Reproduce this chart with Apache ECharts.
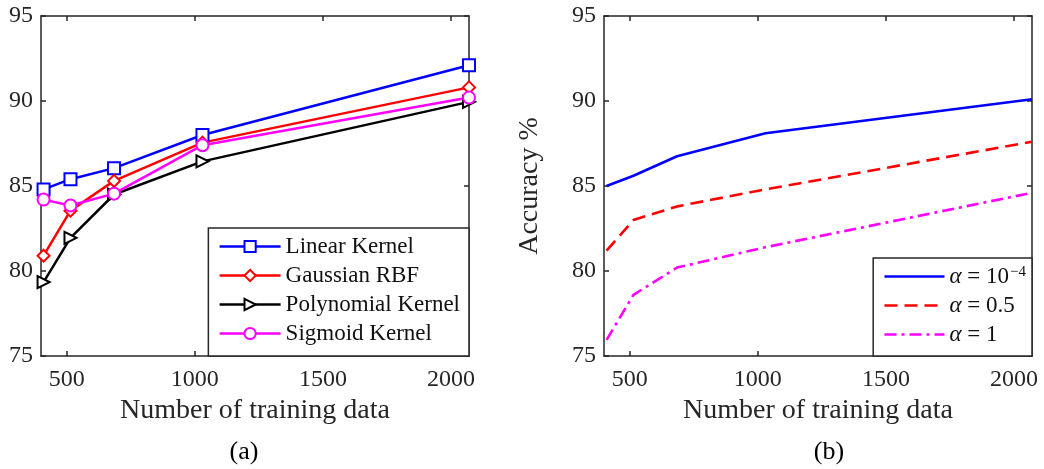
<!DOCTYPE html>
<html>
<head>
<meta charset="utf-8">
<script src="https://cdn.jsdelivr.net/npm/echarts@6/dist/echarts.min.js"></script>
<style>
  html, body { margin: 0; padding: 0; background: #fff; }
  #main { width: 1044px; height: 469px; }
</style>
</head>
<body>
<div id="main"></div>
<script>
// training set sizes (x positions of the points)
var trainSizes = [410, 515, 685, 1030, 2070];
var xTicks = [500, 1000, 1500, 2000];

// panel (a) - kernels
var kernelNames = ['Linear Kernel', 'Gaussian RBF', 'Polynomial Kernel', 'Sigmoid Kernel'];
var linearAcc = [84.8, 85.4, 86.05, 88.0, 92.1];
var gaussianAcc = [80.9, 83.55, 85.3, 87.55, 90.8];
var polyAcc = [79.35, 81.95, 84.5, 86.45, 89.95];
var sigmoidAcc = [84.2, 83.85, 84.55, 87.4, 90.2];

// panel (b) - alpha values
var alphaNames = ['α = 10^-4', 'α = 0.5', 'α = 1'];
var alphaTexts = ['{n|10}{sup|−4}', '{n|0.5}', '{n|1}'];
var alphaSmall = [85.0, 85.6, 86.75, 88.1, 90.1];
var alphaHalf = [81.2, 83.0, 83.8, 84.8, 87.6];
var alphaOne = [75.95, 78.6, 80.2, 81.4, 84.6];

var font = 'Liberation Serif';
var ink = '#262626';

function pairs(ys) {
    return trainSizes.map(function (x, i) { return [x, ys[i]]; });
}

function xAxisFor(gridIndex, top) {
    return {
        type: 'value', gridIndex: gridIndex, min: 400, max: 2070,
        position: top ? 'top' : 'bottom',
        name: top ? '' : 'Number of training data',
        nameLocation: 'middle', nameGap: 38,
        nameTextStyle: { fontFamily: font, fontSize: 28, color: ink },
        axisLine: { show: true, onZero: false, lineStyle: { color: ink, width: 1.5 } },
        axisTick: { show: true, inside: true, length: 5, customValues: xTicks, lineStyle: { color: ink, width: 1.5 } },
        axisLabel: {
            show: !top, customValues: xTicks, margin: 12, fontFamily: font, fontSize: 24, color: ink,
            formatter: function (v) { return String(v); }
        },
        splitLine: { show: false }
    };
}

function yAxisFor(gridIndex, right, name) {
    return {
        type: 'value', gridIndex: gridIndex, min: 75, max: 95, interval: 5,
        position: right ? 'right' : 'left',
        name: name || '', nameLocation: 'middle', nameGap: 60, nameRotate: 90,
        nameTextStyle: { fontFamily: font, fontSize: 28, color: ink },
        axisLine: { show: true, onZero: false, lineStyle: { color: ink, width: 1.5 } },
        axisTick: { show: true, inside: true, length: 5, lineStyle: { color: ink, width: 1.5 } },
        axisLabel: { show: !right, margin: 8, fontFamily: font, fontSize: 24, color: ink },
        splitLine: { show: false }
    };
}

function kernelSeries(name, data, color, symbol, rotate) {
    return {
        name: name, type: 'line', xAxisIndex: 0, yAxisIndex: 0,
        data: pairs(data), clip: false,
        symbol: symbol, symbolSize: 12, symbolRotate: rotate || 0, showAllSymbol: true,
        lineStyle: { color: color, width: 2.5 },
        itemStyle: { color: color, borderColor: color, borderWidth: 2 },
        emphasis: { disabled: true }
    };
}

function alphaSeries(name, data, color, dash) {
    return {
        name: name, type: 'line', xAxisIndex: 2, yAxisIndex: 2,
        data: pairs(data), clip: false, showSymbol: false, symbol: 'none',
        lineStyle: { color: color, width: 2.6, type: dash },
        itemStyle: { color: color },
        emphasis: { disabled: true }
    };
}

var legendText = { fontFamily: font, fontSize: 23, color: '#111', lineHeight: 23 };

var option = {
    animation: false,
    backgroundColor: '#fff',
    grid: [
        { left: 41, top: 16, width: 428, height: 340 },
        { left: 604, top: 16, width: 428, height: 340 }
    ],
    xAxis: [xAxisFor(0, false), xAxisFor(0, true), xAxisFor(1, false), xAxisFor(1, true)],
    yAxis: [yAxisFor(0, false), yAxisFor(0, true), yAxisFor(1, false, 'Accuracy %'), yAxisFor(1, true)],
    legend: [
        {
            data: kernelNames, orient: 'vertical', right: 575, bottom: 113,
            itemWidth: 61, itemHeight: 14, itemGap: 6,
            padding: [7, 9, 11, 10],
            backgroundColor: '#fff', borderColor: ink, borderWidth: 1.5, borderRadius: 0,
            lineStyle: { width: 2.5 },
            textStyle: legendText, selectedMode: false
        },
        {
            data: alphaNames, orient: 'vertical', right: 12, bottom: 113,
            itemWidth: 60, itemHeight: 12, itemGap: 6,
            padding: [7, 6, 10, 10],
            backgroundColor: '#fff', borderColor: ink, borderWidth: 1.5, borderRadius: 0,
            selectedMode: false,
            itemStyle: { opacity: 0 },
            lineStyle: { width: 2.6 },
            formatter: function (name) {
                return '{i|α} {n|=} ' + alphaTexts[alphaNames.indexOf(name)];
            },
            textStyle: {
                fontFamily: font, fontSize: 23, color: '#111',
                rich: {
                    i: { fontFamily: font, fontSize: 23, fontStyle: 'italic', color: '#111', lineHeight: 23 },
                    n: { fontFamily: font, fontSize: 23, color: '#111', lineHeight: 23 },
                    sup: { fontFamily: font, fontSize: 15, color: '#111', verticalAlign: 'top', lineHeight: 11, padding: [0, 0, 0, 1] }
                }
            }
        }
    ],
    graphic: [
        { type: 'text', x: 244, y: 452, style: { text: '(a)', align: 'center', verticalAlign: 'middle', font: '26px "Liberation Serif"', fill: '#000' } },
        { type: 'text', x: 829, y: 452, style: { text: '(b)', align: 'center', verticalAlign: 'middle', font: '26px "Liberation Serif"', fill: '#000' } }
    ],
    series: [
        kernelSeries(kernelNames[0], linearAcc, '#0000ff', 'emptyRect'),
        kernelSeries(kernelNames[1], gaussianAcc, '#ff0000', 'emptyDiamond'),
        kernelSeries(kernelNames[2], polyAcc, '#000000', 'emptyTriangle', -90),
        kernelSeries(kernelNames[3], sigmoidAcc, '#ff00ff', 'emptyCircle'),
        alphaSeries(alphaNames[0], alphaSmall, '#0000ff', 'solid'),
        alphaSeries(alphaNames[1], alphaHalf, '#ff0000', [13, 7]),
        alphaSeries(alphaNames[2], alphaOne, '#ff00ff', [12, 5, 3, 5])
    ]
};

var chart = echarts.init(document.getElementById('main'));
chart.setOption(option);
</script>
</body>
</html>
